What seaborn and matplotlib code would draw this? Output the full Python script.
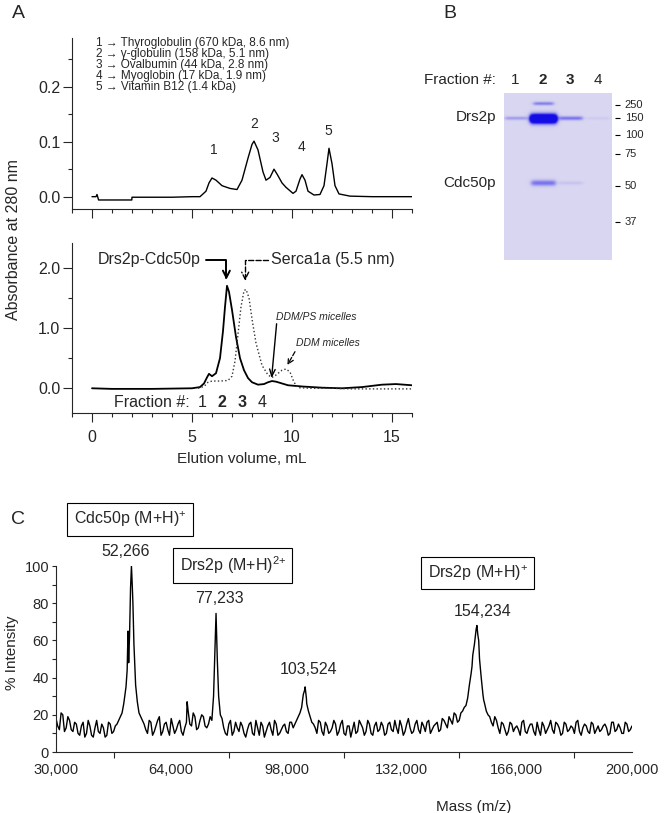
import numpy as np
import pandas as pd
import matplotlib
matplotlib.use("Agg")
import matplotlib.pyplot as plt
from matplotlib.ticker import MultipleLocator, FixedLocator, FuncFormatter, FormatStrFormatter
import seaborn as sns

# ---------------- panel A (top): calibration standards
std_vol = [0.0, 0.2, 0.25, 0.33, 1.0, 1.99, 2.0, 3.0, 4.0, 5.0, 5.4, 5.7, 5.85, 6.0, 6.2, 6.5,
           6.9, 7.25, 7.5, 7.8, 8.0, 8.1, 8.3, 8.55, 8.7, 8.9, 9.1, 9.27, 9.5, 9.7, 10.05, 10.2,
           10.4, 10.5, 10.65, 10.8, 11.1, 11.4, 11.6, 11.75, 11.85, 12.0, 12.15, 12.35, 12.9,
           14.0, 15.0, 16.0]
std_abs = [0.0, 0.0, 0.004, -0.006, -0.006, -0.006, -0.001, -0.001, -0.001, 0.0, 0.0, 0.01,
           0.025, 0.034, 0.03, 0.02, 0.015, 0.013, 0.03, 0.07, 0.095, 0.101, 0.085, 0.045, 0.03,
           0.035, 0.05, 0.04, 0.025, 0.017, 0.006, 0.01, 0.032, 0.04, 0.03, 0.01, 0.003, 0.004,
           0.02, 0.06, 0.088, 0.06, 0.02, 0.005, 0.001, 0.0, 0.0, 0.0]
std_numbers = ["1", "2", "3", "4", "5"]
std_names = ["1 \u2192 Thyroglobulin (670 kDa, 8.6 nm)",
             "2 \u2192 \u03b3-globulin (158 kDa, 5.1 nm)",
             "3 \u2192 Ovalbumin (44 kDa, 2.8 nm)",
             "4 \u2192 Myoglobin (17 kDa, 1.9 nm)",
             "5 \u2192 Vitamin B12 (1.4 kDa)"]

# ---------------- panel A (bottom): Drs2p-Cdc50p and Serca1a
cplx_vol = [0.0, 1.0, 2.0, 3.0, 4.0, 5.0, 5.4, 5.6, 5.75, 5.85, 6.0, 6.2, 6.4, 6.55, 6.65, 6.75,
            6.85, 7.0, 7.2, 7.4, 7.6, 7.8, 8.0, 8.3, 8.6, 8.8, 9.0, 9.2, 9.5, 9.8, 10.5, 11.5,
            12.5, 13.5, 14.5, 15.2, 16.0]
cplx_abs = [0.0, -0.01, -0.01, -0.01, -0.005, 0.0, 0.02, 0.08, 0.18, 0.24, 0.2, 0.25, 0.5, 0.95,
            1.35, 1.7, 1.6, 1.3, 0.85, 0.5, 0.3, 0.17, 0.1, 0.06, 0.07, 0.1, 0.12, 0.11, 0.08,
            0.05, 0.03, 0.01, 0.0, 0.02, 0.06, 0.07, 0.05]
serca_vol = [5.3, 5.6, 5.8, 6.0, 6.4, 6.8, 7.0, 7.15, 7.3, 7.45, 7.6, 7.7, 7.85, 8.0, 8.2, 8.5,
             8.8, 9.0, 9.2, 9.5, 9.7, 9.9, 10.1, 10.3, 11.0, 12.0, 13.0, 14.0, 15.0, 16.0]
serca_abs = [0.0, 0.03, 0.1, 0.12, 0.12, 0.13, 0.2, 0.45, 0.9, 1.35, 1.62, 1.64, 1.5, 1.15, 0.75,
             0.38, 0.22, 0.18, 0.22, 0.3, 0.32, 0.27, 0.1, 0.01, 0.0, 0.0, -0.01, -0.01, -0.01,
             -0.01]
fractions = ["1", "2", "3", "4"]
fraction_vol = [5.5, 6.5, 7.5, 8.5]
fraction_bold = [False, True, True, False]

# ---------------- panel B: SDS gel
lanes = [1, 2, 3, 4]
marker_kda = [250, 150, 100, 75, 50, 37]
marker_pos = [0.070, 0.150, 0.253, 0.365, 0.557, 0.771]
band_lane = [1, 2, 2, 2, 3, 3, 4]
band_pos = [0.150, 0.062, 0.153, 0.539, 0.150, 0.539, 0.150]
band_halfwidth = [0.40, 0.36, 0.48, 0.44, 0.42, 0.42, 0.40]
band_sigma = [0.007, 0.007, 0.018, 0.012, 0.008, 0.007, 0.006]
band_strength = [0.3, 0.45, 2.5, 0.5, 0.5, 0.1, 0.06]
protein_names = ["Drs2p", "Cdc50p"]
protein_pos = [0.146, 0.541]

# ---------------- panel C: MALDI spectrum (read every 500 Da, plus peak tops)
mass_grid = np.arange(30000, 200001, 1000)
intensity_grid = (
    [18, 12, 20, 13, 17, 11]                                            # 30-35k
    + [15, 9, 16, 10, 14, 8, 17, 10, 13, 9, 15, 11]                     # 36-47k
    + [15, 19, 26, 44, 88, 58, 27, 19, 15]                              # 48-56k
    + [10, 16, 11, 17, 9, 15, 12, 18, 10, 15, 11]                       # 57-67k
    + [13, 22]                                                          # 68-69k
    + [14, 19, 13, 20, 14, 15]                                          # 70-75k
    + [17, 60, 30, 18]                                                  # 76-79k
    + [10, 15, 9, 16, 11, 14, 8, 15, 10, 17, 9, 14, 11, 16, 9, 15, 10, 14, 11, 16, 13]
    + [17, 21, 31, 26, 19, 15]                                          # 101-106k
    + [10, 16, 9, 14, 11, 17, 9, 15, 10, 14, 8, 16, 11, 15, 9, 17, 10, 14, 11, 16,
       9, 15, 12, 17, 10, 14, 11, 18, 10, 15, 12, 16, 11, 17, 12, 15, 11, 18]
    + [15, 19, 15, 20, 17, 22, 25, 36, 52, 66, 50, 31, 22, 19, 14, 17]  # 145-160k
    + [10, 15, 9, 16, 11, 14, 9, 17, 10, 15, 11, 16, 9, 14, 12, 17, 10, 15, 9, 16,
       11, 14, 10, 17, 9, 15, 11, 16, 10, 14, 12, 15, 9, 16, 11, 15, 10, 16, 11, 14]
)
mass_half = np.arange(30500, 200000, 1000)
intensity_half = (
    [14, 21, 11, 19, 12, 16]                                            # 30.5-35.5k
    + [10, 14, 8, 17, 9, 13, 11, 15, 8, 16, 10, 14]                     # 36.5-47.5k
    + [17, 21, 33, 52, 90, 36, 21, 17]                                  # 48.5-55.5k
    + [12, 17, 9, 14, 19, 11, 16, 9, 14, 12, 17]                        # 56.5-66.5k
    + [9, 16]                                                           # 67.5-68.5k
    + [15, 21, 12, 17, 19, 13]                                          # 69.5-74.5k
    + [19, 30, 58, 20]                                                  # 75.5-78.5k
    + [13, 9, 17, 11, 13, 16, 10, 12, 16, 9, 13, 16, 8, 14, 12, 17, 9, 12, 15, 10, 16]
    + [15, 19, 24, 34, 22, 16]                                          # 100.5-105.5k
    + [13, 17, 11, 16, 10, 13, 15, 11, 17, 9, 14, 12, 10, 17, 13, 11, 15, 9, 16, 12,
       14, 10, 16, 11, 13, 17, 9, 15, 13, 11, 17, 10, 14, 16, 10, 14, 16, 12]
    + [17, 13, 17, 21, 16, 21, 24, 29, 42, 58, 63, 40, 26, 20, 16, 19]  # 144.5-159.5k
    + [13, 16, 12, 11, 15, 13, 12, 16, 11, 13, 15, 9, 12, 16, 10, 14, 12, 16, 13, 10,
       15, 12, 13, 16, 11, 13, 14, 10, 15, 12, 11, 14, 13, 10, 16, 12, 13, 10, 15, 12]
)
peak_mass = [50660, 51250, 51450, 51700, 52266, 52700, 68700, 76930, 77233, 77620,
             102700, 103524, 103900, 152780, 154234, 154750, 156220]
peak_int = [35, 65, 48, 62, 100, 80, 27, 55, 74.5, 49,
            27, 35, 29, 46, 68, 60, 28]
peak_labels = [52266, 77233, 103524, 154234]
species = [r"Cdc50p (M+H)$^{+}$", r"Drs2p (M+H)$^{2{+}}$", r"Drs2p (M+H)$^{+}$"]

spectrum = pd.DataFrame({
    "mass": list(mass_grid) + list(mass_half) + peak_mass,
    "intensity": list(intensity_grid) + list(intensity_half) + peak_int,
}).sort_values("mass")

# ---------------- style
sns.set_style("ticks")
plt.rcParams["font.family"] = ["Liberation Sans", "DejaVu Sans"]
plt.rcParams["mathtext.fontset"] = "custom"
plt.rcParams["mathtext.rm"] = "Liberation Sans"
plt.rcParams["mathtext.it"] = "Liberation Sans:italic"
plt.rcParams["mathtext.bf"] = "Liberation Sans:bold"

fig = plt.figure(figsize=(6.72, 8.13), dpi=100)


def box(l, t, r, b):
    return [l / 672, 1 - b / 813, (r - l) / 672, (b - t) / 813]


axA1 = fig.add_axes(box(72, 38, 412, 209))
axA2 = fig.add_axes(box(72, 243, 412, 413))
axB = fig.add_axes(box(504, 93, 612, 260))
axC = fig.add_axes(box(56, 566, 632, 752))

# ---- panel A top
sns.lineplot(x=std_vol, y=std_abs, ax=axA1, color="black", lw=1.0, estimator=None)
for num, vx, vy in zip(std_numbers, [6.1, 8.1, 9.17, 10.48, 11.82],
                       [0.084, 0.132, 0.106, 0.091, 0.12]):
    axA1.text(vx, vy, num, ha="center", va="center", fontsize=10)
for i, name in enumerate(std_names):
    axA1.text(0.2, 0.279 - i * 0.0197, name, ha="left", va="center", fontsize=8.5)

# ---- panel A bottom
sns.lineplot(x=cplx_vol, y=cplx_abs, ax=axA2, color="black", lw=1.3, estimator=None)
sns.lineplot(x=serca_vol, y=serca_abs, ax=axA2, color="#333333", lw=1.0, linestyle=":",
             estimator=None)

axA2.text(5.45, 2.13, "Drs2p-Cdc50p", ha="right", va="center", fontsize=11.5)
axA2.annotate("", xy=(6.72, 1.80), xytext=(5.7, 2.13),
              arrowprops=dict(arrowstyle="->,head_length=0.5,head_width=0.25", lw=1.4,
                              color="black", shrinkA=0, shrinkB=0,
                              connectionstyle="angle,angleA=0,angleB=90,rad=0"))
axA2.text(8.95, 2.13, "Serca1a (5.5 nm)", ha="left", va="center", fontsize=11.5, clip_on=False)
axA2.annotate("", xy=(7.66, 1.785), xytext=(8.8, 2.13),
              arrowprops=dict(arrowstyle="->,head_length=0.5,head_width=0.25", lw=1.0,
                              ls="--", color="black", shrinkA=0, shrinkB=0,
                              connectionstyle="angle,angleA=0,angleB=90,rad=0"))
axA2.text(11.2, 1.18, "DDM/PS micelles", ha="center", va="center", fontsize=7.5,
          style="italic")
axA2.annotate("", xy=(8.98, 0.17), xytext=(9.23, 1.07),
              arrowprops=dict(arrowstyle="->,head_length=0.5,head_width=0.2", lw=1.0,
                              color="black", shrinkA=0, shrinkB=0))
axA2.text(11.8, 0.746, "DDM micelles", ha="center", va="center", fontsize=7.5, style="italic")
axA2.annotate("", xy=(9.77, 0.386), xytext=(10.15, 0.607),
              arrowprops=dict(arrowstyle="->,head_length=0.4,head_width=0.2", lw=0.9,
                              ls="--", color="black", shrinkA=0, shrinkB=0))

axA2.text(4.9, -0.24, "Fraction #:", ha="right", va="center", fontsize=11.5)
for lab, vx, bold in zip(fractions, fraction_vol, fraction_bold):
    axA2.text(vx, -0.24, lab, ha="center", va="center", fontsize=11.5,
              fontweight="bold" if bold else "normal")

for ax in (axA1, axA2):
    sns.despine(ax=ax)
    ax.set_xlim(-1, 16)
    ax.xaxis.set_major_locator(FixedLocator([0, 5, 10, 15]))
    ax.xaxis.set_minor_locator(MultipleLocator(1))
    ax.yaxis.set_major_formatter(FormatStrFormatter("%.1f"))
    ax.tick_params(which="major", length=6.5, width=0.8, labelsize=11.5, pad=2)
    ax.tick_params(which="minor", length=3.2, width=0.8)
    ax.tick_params(axis="x", which="major", pad=6)
    ax.set_xlabel("")
    ax.set_ylabel("")
    for s in ("left", "bottom"):
        ax.spines[s].set_linewidth(0.8)

axA1.set_ylim(-0.0224, 0.2885)
axA1.yaxis.set_major_locator(FixedLocator([0.0, 0.1, 0.2]))
axA1.yaxis.set_minor_locator(MultipleLocator(0.05))
axA1.tick_params(axis="x", labelbottom=False)

axA2.set_ylim(-0.41, 2.41)
axA2.yaxis.set_major_locator(FixedLocator([0.0, 1.0, 2.0]))
axA2.yaxis.set_minor_locator(MultipleLocator(0.5))
axA2.set_xlabel("Elution volume, mL", fontsize=11, labelpad=5)

fig.text(13.5 / 672, 1 - 240 / 813, "Absorbance at 280 nm", rotation=90, ha="center",
         va="center", fontsize=11.5)

# ---- panel B: gel image built from the band table
x0, x1 = 1 + (504 - 516) / 27.5, 1 + (612 - 516) / 27.5
ys = np.linspace(0, 1, 334)[:, None]
xs = np.linspace(x0, x1, 216)[None, :]
dens = np.zeros((334, 216))
for ln, pos, hw, sg, st in zip(band_lane, band_pos, band_halfwidth, band_sigma, band_strength):
    xprof = 1 / (1 + np.exp((np.abs(xs - ln) - hw) / 0.04))
    dens += st * np.exp(-0.5 * ((ys - pos) / sg) ** 2) * xprof
alpha = np.clip(dens, 0, 1)[:, :, None]
bg = np.array([0.85, 0.84, 0.945])
ink = np.array([0.08, 0.05, 0.90])
gel = bg * (1 - alpha) + ink * alpha
axB.imshow(gel, extent=(x0, x1, 1, 0), aspect="auto", interpolation="bilinear")
axB.set_xlim(x0, x1)
axB.set_ylim(1, 0)
axB.axis("off")
axB.text(0.27, -0.078, "Fraction #:", ha="right", va="center", fontsize=11, clip_on=False)
for ln in lanes:
    axB.text(ln - 0.04, -0.078, str(ln), ha="center", va="center", fontsize=11,
             fontweight="bold" if ln in (2, 3) else "normal", clip_on=False)
for name, pos in zip(protein_names, protein_pos):
    axB.text(0.27, pos, name, ha="right", va="center", fontsize=11, clip_on=False)
axB.hlines(marker_pos, 4.6, 4.78, color="black", lw=0.8, clip_on=False)
for kda, pos in zip(marker_kda, marker_pos):
    axB.text(4.96, pos, str(kda), ha="left", va="center", fontsize=8, clip_on=False)

# ---- panel C
sns.lineplot(data=spectrum, x="mass", y="intensity", ax=axC, color="black", lw=1.0,
             estimator=None)
sns.despine(ax=axC)
axC.set_xlim(30000, 200000)
axC.set_ylim(0, 100)
axC.xaxis.set_major_locator(FixedLocator(list(range(30000, 200001, 34000))))
axC.xaxis.set_minor_locator(FixedLocator(list(range(47000, 200000, 34000))))
axC.xaxis.set_major_formatter(FuncFormatter(lambda v, p: f"{int(v):,}"))
axC.yaxis.set_major_locator(MultipleLocator(20))
axC.yaxis.set_minor_locator(MultipleLocator(10))
axC.tick_params(axis="x", which="major", length=0, pad=8, labelsize=10.5)
axC.tick_params(axis="x", which="minor", length=4, width=0.8)
axC.tick_params(axis="y", which="both", length=3, width=0.8, labelsize=10.5, pad=2)
for s in ("left", "bottom"):
    axC.spines[s].set_linewidth(0.8)
axC.set_xlabel("Mass (m/z)", fontsize=11)
axC.xaxis.set_label_coords((473.7 - 56) / 576, -(800 - 752) / 186)
axC.set_ylabel("")
fig.text(12 / 672, 1 - 653 / 813, "% Intensity", rotation=90, ha="center", va="center",
         fontsize=11)

for m, lx, ly in zip(peak_labels, [50600, 78200, 104670, 155970], [107.7, 82.4, 44.4, 75.4]):
    axC.text(lx, ly, f"{m:,}", ha="center", va="center", fontsize=11.5, clip_on=False)
for sp, bx, by in zip(species, [51840, 82180, 154490], [124.9, 100.2, 96.2]):
    axC.text(bx, by, sp, ha="center", va="center", fontsize=11.5, clip_on=False,
             bbox=dict(boxstyle="square,pad=0.4", fc="white", ec="black", lw=0.8))

# panel letters
fig.text(18.5 / 672, 1 - 14 / 813, "A", ha="center", va="center", fontsize=14)
fig.text(450 / 672, 1 - 14 / 813, "B", ha="center", va="center", fontsize=14)
fig.text(18.5 / 672, 1 - 520 / 813, "C", ha="center", va="center", fontsize=14)

fig.savefig("out.png", dpi=100)
